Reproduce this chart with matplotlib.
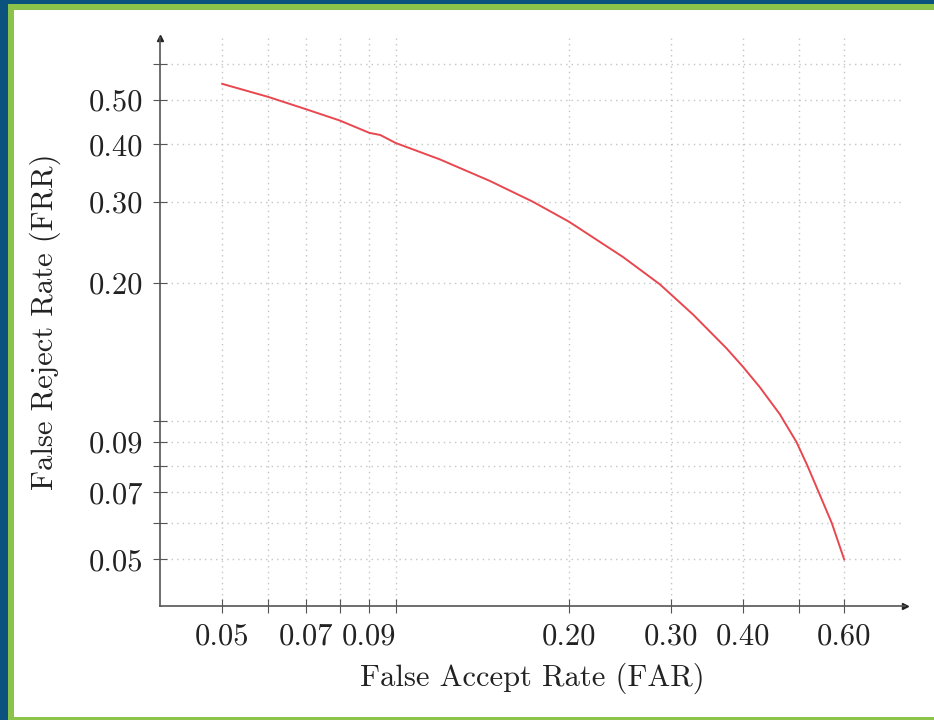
import matplotlib
matplotlib.use('Agg')
import matplotlib.pyplot as plt
from matplotlib.patches import Rectangle

# values (log-log DET curve)
far = [0.05, 0.06, 0.07, 0.08, 0.09, 0.094, 0.10, 0.1193, 0.1457, 0.1732,
       0.20, 0.2481, 0.2873, 0.3282, 0.375, 0.40, 0.4284, 0.464, 0.496,
       0.518, 0.542, 0.571, 0.60]
frr = [0.542, 0.508, 0.477, 0.451, 0.424, 0.4195, 0.403, 0.3712, 0.3332, 0.300,
       0.2715, 0.2275, 0.1985, 0.1705, 0.144, 0.1315, 0.1185, 0.1035, 0.090,
       0.080, 0.070, 0.060, 0.050]

x_ticks = [0.05, 0.06, 0.07, 0.08, 0.09, 0.10, 0.20, 0.30, 0.40, 0.50, 0.60]
x_labels = ['0.05', '', '0.07', '', '0.09', '', '0.20', '0.30', '0.40', '', '0.60']
y_ticks = [0.05, 0.06, 0.07, 0.08, 0.09, 0.10, 0.20, 0.30, 0.40, 0.50, 0.60]
y_labels = ['0.05', '', '0.07', '', '0.09', '', '0.20', '0.30', '0.40', '0.50', '']

plt.rcParams['font.family'] = 'serif'
plt.rcParams['font.serif'] = ['cmr10', 'DejaVu Serif']
plt.rcParams['mathtext.fontset'] = 'cm'
plt.rcParams['axes.formatter.use_mathtext'] = True

W, H = 934, 720
fig = plt.figure(figsize=(W / 100, H / 100), dpi=100)
fig.patch.set_facecolor('#0b527f')
# green frame and white slide panel
fig.patches.append(Rectangle((8 / W, 0), 1, (H - 4) / H, transform=fig.transFigure,
                             facecolor='#8cc34b', edgecolor='none', zorder=-2))
fig.patches.append(Rectangle((14 / W, 3 / H), 1, (H - 13) / H, transform=fig.transFigure,
                             facecolor='white', edgecolor='none', zorder=-1))

ax = fig.add_axes([160 / W, 1 - 606 / H, 745 / W, 568 / H])
ax.set_facecolor('none')
ax.set_xscale('log')
ax.set_yscale('log')
ax.set_xlim(0.039, 0.765)
ax.set_ylim(0.0396, 0.682)

ax.plot(far, frr, color='#e8474f', lw=1.4, zorder=3)

ax.set_xticks(x_ticks)
ax.set_xticklabels(x_labels)
ax.set_yticks(y_ticks)
ax.set_yticklabels(y_labels)
ax.minorticks_off()
ax.tick_params(axis='both', direction='inout', length=10, width=0.8, color='#555555',
               labelsize=22, labelcolor='#222222', pad=7)

ax.grid(True, color='#c4c4c4', linestyle=(0, (1, 3)), linewidth=1.0)

for s in ['top', 'right']:
    ax.spines[s].set_visible(False)
for s in ['left', 'bottom']:
    ax.spines[s].set_color('#555555')
    ax.spines[s].set_linewidth(1.2)

# axis arrows
ax.plot(1, 0, '>', color='#222222', ms=5, transform=ax.transAxes, clip_on=False)
ax.plot(0, 1, '^', color='#222222', ms=5, transform=ax.transAxes, clip_on=False)

ax.set_xlabel('False Accept Rate (FAR)', fontsize=22, color='#222222', labelpad=9)
ax.set_ylabel('False Reject Rate (FRR)', fontsize=22, color='#222222', labelpad=20)

plt.savefig('out.png', dpi=100, facecolor=fig.get_facecolor())
